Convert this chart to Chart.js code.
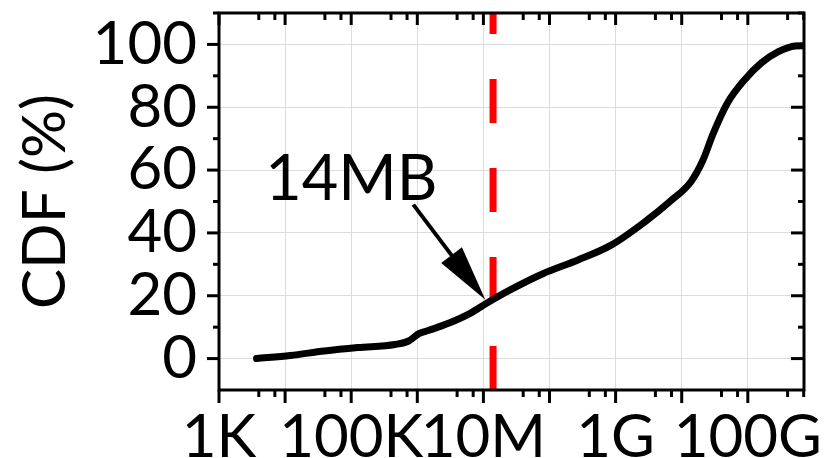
<!DOCTYPE html>
<html>
<head>
<meta charset="utf-8">
<script src="https://cdn.jsdelivr.net/npm/chart.js@4"></script>
<style>
  html, body { margin: 0; padding: 0; background: #fff; }
</style>
</head>
<body>
<canvas id="chart" width="830" height="458"></canvas>
<script>
'use strict';

// file size in bytes and cumulative share of files (%)
const sizes = [3.7e3, 1.2e4, 3.9e4, 1.26e5, 4.6e5, 7.4e5, 1.07e6, 1.5e6, 3.1e6, 6.3e6,
  1.15e7, 2.5e7, 8.1e7, 2.7e8, 8.7e8, 2.8e9, 6.8e9, 1.38e10, 2.1e10, 3.0e10,
  4.9e10, 8.9e10, 1.58e11, 2.9e11, 5.2e11, 7.1e11];
const cdf = [0, 1.0, 2.4, 3.5, 4.5, 5.6, 8.0, 9.0, 11.4, 14.4,
  17.8, 21.8, 27.1, 31.4, 36.2, 43.6, 50.2, 56.3, 63.2, 71.7,
  81.3, 88.7, 94.0, 97.7, 99.5, 99.6];

const xTickValues = [1e3, 1e4, 1e5, 1e6, 1e7, 1e8, 1e9, 1e10, 1e11];
const xTickLabels = ['1K', '', '100K', '', '10M', '', '1G', '', '100G'];
const yTickValues = [0, 20, 40, 60, 80, 100];

const markerSize = 1.4e7;   // 14MB
const markerLabel = '14MB';

const X_MIN = 1e3;
const X_MAX = Math.pow(10, 11.85);
const Y_MIN = -10;
const Y_MAX = 110;
const FONT = 'Lato, "Open Sans", sans-serif';

let canvasElem = document.getElementById('chart');

// frame, tick marks and the annotation arrow
const framePlugin = {
  id: 'frame',
  afterDatasetsDraw(chart) {
    const ctx = chart.ctx;
    const xs = chart.scales.x;
    const ys = chart.scales.y;

    // arrow with label
    const tail = [xs.getPixelForValue(8.7e5), ys.getPixelForValue(49)];
    const tip = [xs.getPixelForValue(1.07e7), ys.getPixelForValue(18.7)];
    const dx = tip[0] - tail[0], dy = tip[1] - tail[1];
    const len = Math.hypot(dx, dy);
    const ux = dx / len, uy = dy / len;
    const headLen = 56, headHalf = 13;
    const bx = tip[0] - ux * headLen, by = tip[1] - uy * headLen;
    ctx.save();
    ctx.strokeStyle = '#000';
    ctx.fillStyle = '#000';
    ctx.lineWidth = 4;
    ctx.beginPath();
    ctx.moveTo(tail[0], tail[1]);
    ctx.lineTo(bx + ux * 4, by + uy * 4);
    ctx.stroke();
    ctx.beginPath();
    ctx.moveTo(tip[0], tip[1]);
    ctx.lineTo(bx - uy * headHalf, by + ux * headHalf);
    ctx.lineTo(bx + uy * headHalf, by - ux * headHalf);
    ctx.closePath();
    ctx.fill();

    ctx.font = '63px ' + FONT;
    ctx.textAlign = 'left';
    ctx.textBaseline = 'alphabetic';
    ctx.fillText(markerLabel, xs.getPixelForValue(5e3), ys.getPixelForValue(50.5));
    ctx.restore();
  },
  afterDraw(chart) {
    const ctx = chart.ctx;
    const a = chart.chartArea;
    const xs = chart.scales.x;
    const ys = chart.scales.y;
    ctx.save();
    ctx.strokeStyle = '#000';
    ctx.lineCap = 'butt';

    // ticks
    ctx.lineWidth = 3;
    const tick = (x1, y1, x2, y2) => {
      ctx.beginPath();
      ctx.moveTo(x1, y1);
      ctx.lineTo(x2, y2);
      ctx.stroke();
    };
    xTickValues.forEach(v => {
      const px = xs.getPixelForValue(v);
      tick(px, a.bottom, px, a.bottom + 13);
      tick(px, a.top, px, a.top + 12);
      [4, 7].forEach(m => {
        if (v * m <= X_MAX) {
          const mx = xs.getPixelForValue(v * m);
          tick(mx, a.bottom, mx, a.bottom + 7);
          tick(mx, a.top, mx, a.top + 7);
        }
      });
    });
    yTickValues.forEach(v => {
      const py = ys.getPixelForValue(v);
      tick(a.left - 12, py, a.left, py);
      tick(a.right - 13, py, a.right, py);
      const my = ys.getPixelForValue(v + 10);
      tick(a.left - 6, my, a.left, my);
      tick(a.right - 6, my, a.right, my);
    });

    // frame
    ctx.lineWidth = 3;
    ctx.strokeRect(a.left, a.top, a.right - a.left, a.bottom - a.top);
    ctx.restore();
  }
};

const data = {
  datasets: [{
    label: 'CDF',
    data: sizes.map((s, i) => ({ x: s, y: cdf[i] })),
    borderColor: '#000',
    borderWidth: 7,
    borderCapStyle: 'round',
    borderJoinStyle: 'round',
    cubicInterpolationMode: 'monotone',
    pointRadius: 0,
    showLine: true,
    fill: false,
  }, {
    label: markerLabel,
    data: [{ x: markerSize, y: Y_MIN }, { x: markerSize, y: Y_MAX }],
    borderColor: '#ff0000',
    borderWidth: 7,
    borderDash: [44, 45],
    pointRadius: 0,
    showLine: true,
    fill: false,
  }]
};

const config = {
  type: 'scatter',
  data: data,
  options: {
    responsive: false,
    animation: false,
    layout: { padding: { top: 13, right: 26, left: 0, bottom: 0 } },
    plugins: {
      legend: { display: false },
      tooltip: { enabled: false },
    },
    scales: {
      x: {
        type: 'logarithmic',
        min: X_MIN,
        max: X_MAX,
        afterBuildTicks: scale => {
          scale.ticks = xTickValues.map(v => ({ value: v }));
        },
        afterFit: scale => {
          scale.height = 68;
          scale.paddingLeft = 0;
          scale.paddingRight = 0;
        },
        grid: { color: '#dcdcdc', lineWidth: 1, drawTicks: false },
        border: { display: false },
        ticks: {
          autoSkip: false,
          maxRotation: 0,
          padding: 12,
          color: '#000',
          font: { family: FONT, size: 60 },
          callback: (value, index) => xTickLabels[index],
        },
      },
      y: {
        type: 'linear',
        min: Y_MIN,
        max: Y_MAX,
        afterBuildTicks: scale => {
          scale.ticks = yTickValues.map(v => ({ value: v }));
        },
        afterFit: scale => {
          scale.width = 219;
          scale.paddingTop = 0;
          scale.paddingBottom = 0;
        },
        grid: { color: '#dcdcdc', lineWidth: 1, drawTicks: false },
        border: { display: false },
        title: {
          display: true,
          text: 'CDF (%)',
          color: '#000',
          font: { family: FONT, size: 60 },
          padding: { top: 10, bottom: 0 },
        },
        ticks: {
          autoSkip: false,
          padding: 22,
          color: '#000',
          font: { family: FONT, size: 60 },
        },
      },
    },
  },
  plugins: [framePlugin],
};

function renderChart() {
  new Chart(canvasElem, config);
}

renderChart();
</script>
</body>
</html>
